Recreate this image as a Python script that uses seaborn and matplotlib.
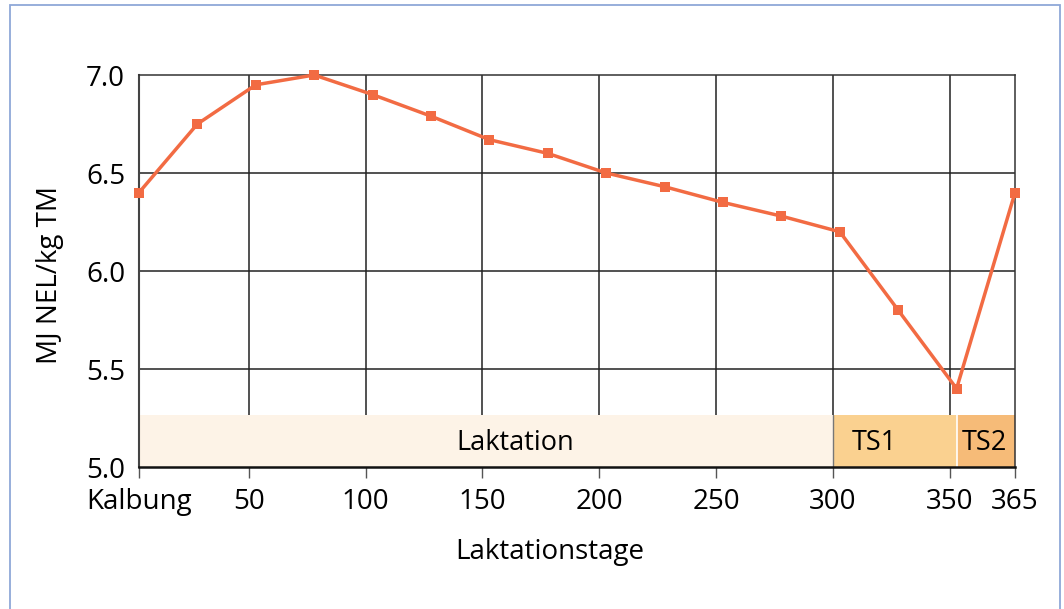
import matplotlib
matplotlib.use("Agg")
import matplotlib.pyplot as plt
import seaborn as sns
import pandas as pd
from matplotlib.patches import Rectangle

# data (values every 25 days, axis from calving to 365)
tage = [3, 28, 53, 78, 103, 128, 153, 178, 203, 228, 253, 278, 303, 328, 353, 378]
nel = [6.4, 6.75, 6.95, 7.0, 6.9, 6.79, 6.67, 6.6, 6.5, 6.43, 6.35, 6.28, 6.2, 5.8, 5.4, 6.4]
tick_pos = [3, 50, 100, 150, 200, 250, 300, 350, 378]
tick_lab = ['Kalbung', '50', '100', '150', '200', '250', '300', '350', '365']
phasen = ['Laktation', 'TS1', 'TS2']
phase_start = [3, 300, 353]
phase_ende = [300, 353, 378]
phase_text_x = [164, 318, 365]
phase_farben = ['#fdf3e7', '#fad190', '#f6bb78']

df = pd.DataFrame({'tag': tage, 'nel': nel})

sns.set_style('white')
plt.rcParams['font.family'] = ['Open Sans', 'DejaVu Sans']
plt.rcParams['text.color'] = 'black'
plt.rcParams['xtick.color'] = 'black'
plt.rcParams['ytick.color'] = 'black'

fig = plt.figure(figsize=(10.64, 6.09), dpi=100)
ax = fig.add_axes([139/1064, 1 - 467/609, (1015-139)/1064, (467-75)/609])

# outer frame
fig.patches.append(Rectangle((10/1064, -0.01), 1050/1064, 1 - 5/609 + 0.01,
                             transform=fig.transFigure, fill=False,
                             edgecolor='#8fa8d8', linewidth=1.3))

# grid
for x in tick_pos[1:-1]:
    ax.axvline(x, color='#222222', linewidth=1.1, zorder=1)
for y in [5.5, 6.0, 6.5]:
    ax.axhline(y, color='#222222', linewidth=1.1, zorder=1)

# phase bands
for name, s, e, tx, c in zip(phasen, phase_start, phase_ende, phase_text_x, phase_farben):
    ax.add_patch(Rectangle((s, 5.0), e - s, 0.265, facecolor=c, edgecolor='none', zorder=2))
    ax.text(tx, 5.122, name, ha='center', va='center', fontsize=19.5, zorder=3)
ax.plot([353, 353], [5.0, 5.265], color='white', linewidth=1.2, zorder=2.5)
ax.plot([300, 300], [5.0, 5.265], color='#777777', linewidth=1.0, zorder=2.5)

sns.lineplot(data=df, x='tag', y='nel', ax=ax, color='#f26b43', linewidth=2.5,
             marker='s', markersize=7.5, markeredgewidth=0, zorder=4, clip_on=False)

ax.set_xlim(3, 378)
ax.set_ylim(5.0, 7.0)
ax.set_xticks(tick_pos)
ax.set_xticklabels(tick_lab)
ax.set_yticks([5.0, 5.5, 6.0, 6.5, 7.0])
ax.set_yticklabels(['5.0', '5.5', '6.0', '6.5', '7.0'])
ax.tick_params(axis='x', direction='out', length=8, width=1, color='#555555',
               labelsize=20, pad=7, bottom=True)
ax.tick_params(axis='y', length=0, labelsize=20, pad=10)
for side in ['top', 'right']:
    ax.spines[side].set_color('#333333')
    ax.spines[side].set_linewidth(1.1)
ax.spines['left'].set_color('#444444')
ax.spines['left'].set_linewidth(1.5)
ax.spines['bottom'].set_color('#111111')
ax.spines['bottom'].set_linewidth(1.8)

ax.set_xlabel('')
ax.set_ylabel('')
fig.text(550/1064, 1 - 552/609, 'Laktationstage', ha='center', va='center', fontsize=20)
fig.text(50/1064, 1 - 275/609, 'MJ NEL/kg TM', ha='center', va='center',
         rotation=90, fontsize=20)

fig.savefig('out.png', dpi=100)
